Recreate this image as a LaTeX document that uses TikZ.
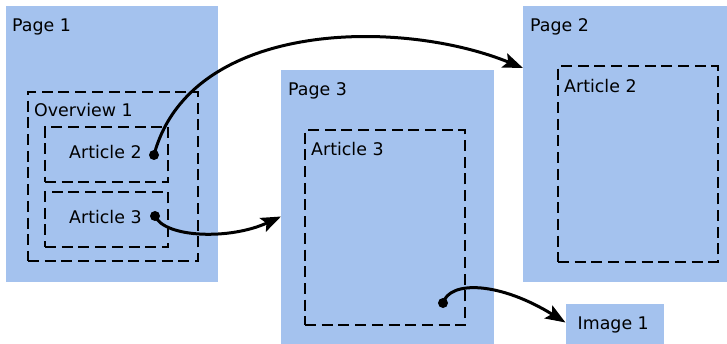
\documentclass[tikz,border=0pt]{standalone}
\usepackage{fontspec}
\setmainfont{DejaVu Sans}
\usetikzlibrary{arrows.meta}
\definecolor{pagefill}{HTML}{A4C2EE}
\begin{document}
\begin{tikzpicture}[x=1pt,y=1pt,
  pagebox/.style={fill=pagefill, draw=none, inner sep=0pt, anchor=north west},
  dashbox/.style={draw=black, line width=2pt, dash pattern=on 11pt off 5.7pt, inner sep=0pt, anchor=north west},
  lab/.style={anchor=base west, inner sep=0pt, font=\fontsize{17.4}{20}\selectfont},
  dotc/.style={circle, fill=black, inner sep=0pt, minimum size=10pt},
  conn/.style={line width=3pt, -{Stealth[length=20pt, width=15pt, inset=4pt]}}
]
\useasboundingbox (0,0) rectangle (727,-344);
% pages
\node[pagebox, minimum width=212pt, minimum height=275.5pt] (p1) at (6,-6) {};
\node[pagebox, minimum width=212.5pt, minimum height=273.5pt] (p3) at (281,-70) {};
\node[pagebox, minimum width=204pt, minimum height=275.5pt] (p2) at (523,-6) {};
\node[pagebox, minimum width=98pt, minimum height=40.5pt] (img) at (566,-303.5) {};
% dashed boxes
\node[dashbox, minimum width=170pt, minimum height=169pt] (ov) at (27,-91) {};
\node[dashbox, minimum width=123pt, minimum height=55pt] (a2) at (44,-126) {};
\node[dashbox, minimum width=123pt, minimum height=55.5pt] (a3) at (44,-191) {};
\node[dashbox, minimum width=160pt, minimum height=195pt] (b3) at (304,-129) {};
\node[dashbox, minimum width=159.5pt, minimum height=196pt] (b2) at (557,-65) {};
% labels
\node[lab] (p1lab) at (12,-32) {Page 1};
\node[lab] (ovlab) at (34,-117) {Overview 1};
\node[lab] (a2lab) at (69,-158.5) {Article 2};
\node[lab] (a3lab) at (69,-223.5) {Article 3};
\node[lab] (p3lab) at (288,-95.5) {Page 3};
\node[lab] (b3lab) at (311,-156) {Article 3};
\node[lab] (p2lab) at (530,-32) {Page 2};
\node[lab] (b2lab) at (564,-92.5) {Article 2};
\node[lab] (imglab) at (577.5,-329.5) {Image 1};
% dots
\node[dotc] (d2) at (154,-155) {};
\node[dotc] (d3) at (155,-216) {};
\node[dotc] (d4) at (443,-303) {};
% arrow ends
\coordinate (e2) at (523,-68);
\coordinate (e3) at (281,-216.5);
\coordinate (e4) at (565.5,-322.5);
% connectors
\draw[conn] (d2.center) .. controls (190,-20) and (400,-18) .. (e2);
\draw[conn] (d3.center) .. controls (165,-238) and (230,-240) .. (e3);
\draw[conn] (d4.center) .. controls (450,-280) and (500,-282) .. (e4);
\end{tikzpicture}
\end{document}
